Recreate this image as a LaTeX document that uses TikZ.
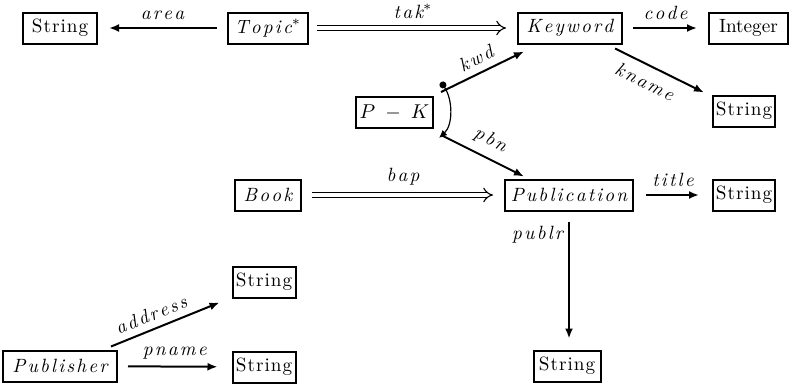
\documentclass[tikz,border=0pt]{standalone}
\usepackage{fontspec}
\usetikzlibrary{arrows.meta,calc}
\makeatletter
\newcommand\dgsp[2]{\def\dg@k{#1}\@tfor\dg@c:=#2\do{\dg@c\kern\dg@k}\kern-\dg@k}
\makeatother
\newcommand\sr[1]{\dgsp{0.5pt}{#1}}
\newcommand\si[1]{\dgsp{1.1pt}{#1}}
\newcommand\dgfont{\fontsize{9.6}{11}\selectfont}
\tikzset{
  rbox/.style={draw, line width=1pt, minimum height=15.5pt, inner sep=1pt, font=\dgfont},
  ibox/.style={rbox, font=\dgfont\itshape},
  arr/.style={line width=1pt, -{Latex[length=5pt,width=4pt]}},
  dbl/.style={double=white, double distance=2pt, line width=0.55pt, -{Implies}},
  lbl/.style={font=\dgfont\itshape, inner sep=1.5pt},
  gap/.style={shorten <=5pt, shorten >=5.5pt}
}
\begin{document}
\begin{tikzpicture}[x=0.5pt,y=-0.5pt]
\useasboundingbox (0,0) rectangle (791,391);
% nodes
\node[rbox, minimum width=37pt] (s1) at (60,28) {\sr{String}};
\node[ibox, minimum width=40pt] (topic) at (268,28) {\si{Topic}$^*$};
\node[ibox, minimum width=52pt] (kw) at (570,28) {\si{Keyword}};
\node[rbox, minimum width=39.5pt] (int) at (748.5,28) {Integer};
\node[ibox, minimum width=38.5pt] (pk) at (394.5,112) {$P\;-\;K$};
\node[rbox, minimum width=31pt] (s2) at (744,111) {\sr{String}};
\node[ibox, minimum width=33pt] (book) at (268,195) {\si{Book}};
\node[ibox, minimum width=64pt] (pub) at (569,195) {\si{Publication}};
\node[rbox, minimum width=31pt] (s3) at (744,195) {\sr{String}};
\node[rbox, minimum width=31.5pt] (s4) at (264,282) {\sr{String}};
\node[ibox, minimum width=57pt] (publ) at (60,366) {\si{Publisher}};
\node[rbox, minimum width=31.5pt] (s5) at (264,367) {\sr{String}};
\node[rbox, minimum width=33.5pt] (s6) at (567,366) {\sr{String}};
% coordinates
\coordinate (kwdS) at ($(pk.east)+(7,-20)$);
\coordinate (kwdE) at ($(kw.south west)+(7,7)$);
\coordinate (knS) at ($(kw.south east)+(-8,4)$);
\coordinate (knE) at ($(s2.north west)+(-8,-2)$);
\coordinate (pbnS) at ($(pk.east)+(7,23)$);
\coordinate (pbnE) at ($(pub.north west)+(20,-2)$);
\coordinate (adS) at ($(publ.north east)+(-7,-3)$);
\coordinate (adE) at ($(s4.south west)+(-12,4)$);
\coordinate (arcS) at ($(pk.east)+(7,-30)$);
\coordinate (arcE) at ($(pk.east)+(5,26)$);
% connectors
\draw[arr, gap] (topic) -- (s1) node[midway, above=2pt, lbl] {\si{area}};
\draw[dbl, shorten <=4pt, shorten >=5.5pt] (topic) -- (kw) node[midway, above=3pt, lbl] {\si{tak}$^*$};
\draw[arr, gap] (kw) -- (int) node[midway, above=2pt, lbl] {\si{code}};
\draw[arr] (kwdS) -- (kwdE) node[pos=0.5, sloped, above=2pt, lbl] {\si{kwd}};
\draw[arr] (knS) -- (knE) node[pos=0.42, sloped, below=3pt, lbl] {\si{kname}};
\draw[arr] (pbnS) -- (pbnE) node[pos=0.5, sloped, above=2.5pt, lbl] {\si{pbn}};
\draw[line width=0.6pt, {Circle[length=3.5pt]}-{Latex[length=4pt,width=3.5pt]}] (arcS) .. controls ($(arcS)+(12,18)$) and ($(arcE)+(14,-13)$) .. (arcE);
\draw[dbl, gap] (book) -- (pub) node[midway, above=3pt, lbl] {\si{bap}};
\draw[arr, shorten <=6pt, shorten >=6.5pt] (pub) -- (s3) node[midway, above=2pt, lbl] {\si{title}};
\draw[arr, gap] (pub.south) -- (pub.south |- s6.north) node[pos=0.17, left=1pt, lbl] {\si{publr}};
\draw[arr] (adS) -- (adE) node[pos=0.42, sloped, above=2pt, lbl] {\si{address}};
\draw[arr, gap, shorten >=7pt] (publ) -- (s5) node[midway, above=1.5pt, lbl] {\si{pname}};
\end{tikzpicture}
\end{document}
